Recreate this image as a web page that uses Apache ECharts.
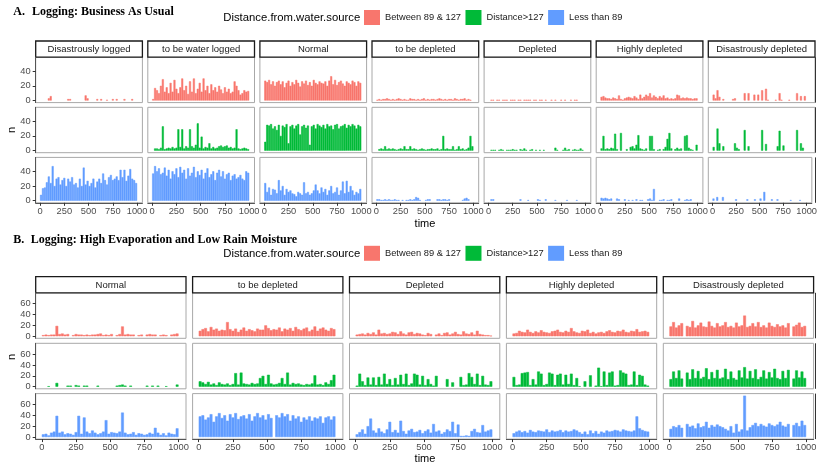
<!DOCTYPE html>
<html><head><meta charset="utf-8">
<script src="https://cdn.jsdelivr.net/npm/echarts@6/dist/echarts.min.js"></script>
<style>html,body{margin:0;padding:0;background:#fff}#c{width:820px;height:465px}</style>
</head><body><div id="c"></div>
<script>
// ---------- data ----------
const times = [10,30,50,70,90,110,130,150,170,190, 210,230,250,270,290,310,330,350,370,390, 410,430,450,470,490,510,530,550,570,590, 610,630,650,670,690,710,730,750,770,790, 810,830,850,870,890,910,930,950,970,990];
const seriesNames = ['Between 89 & 127', 'Distance>127', 'Less than 89'];
const xTicks = [0, 250, 500, 750, 1000];
const yTicksA = [0, 20, 40];
const yTicksB = [0, 20, 40, 60];
const facetsA = ['Disastrously logged', 'to be water logged', 'Normal', 'to be depleted', 'Depleted', 'Highly depleted', 'Disastrously depleted'];
const facetsB = ['Normal', 'to be depleted', 'Depleted', 'Highly depleted', 'Disastrously depleted'];
const titleA = 'Logging: Business As Usual';
const titleB = 'Logging: High Evaporation and Low Rain Moisture';

// Panel A — Business As Usual
const aRed1   = [0,0,0,0,3,6,0,0,0,0, 0,0,0,0,2,2,0,0,0,0, 0,0,0,7,3,0,0,0,0,2, 0,2,0,0,1,0,0,2,0,2, 0,0,0,2,0,0,0,2,0,0];
const aGreen1 = [];
const aBlue1  = [8,17,18,25,33,24,47,20,30,32, 22,28,31,20,30,26,32,22,24,18, 30,20,45,22,27,20,24,30,18,26, 30,24,37,28,22,32,35,28,30,33, 28,42,32,42,27,34,43,30,28,24];

const aRed2   = [2,17,14,10,20,29,12,18,10,24, 12,28,16,10,18,30,14,20,9,26, 12,30,10,16,24,12,30,14,20,10, 22,14,18,12,20,15,10,18,12,16, 10,12,26,20,14,8,10,14,12,13];
const aGreen2 = [0,3,3,2,4,33,2,3,4,3, 5,3,4,29,5,29,3,6,4,29, 6,4,8,37,4,19,3,5,4,10, 3,5,3,4,6,7,5,6,7,4, 5,3,4,29,3,2,3,4,3,2];
const aBlue2  = [37,47,40,44,36,38,45,34,42,30, 40,36,44,32,46,38,42,30,44,34, 38,46,32,40,35,42,30,38,44,32, 36,40,28,38,42,33,40,30,36,38, 28,34,36,30,32,35,30,28,40,38];

const aRed3   = [27,25,28,22,26,20,25,27,22,26, 18,24,27,20,25,22,28,24,19,26, 23,27,21,25,20,28,24,22,26,24, 23,26,20,27,33,22,28,21,25,27, 23,20,26,24,22,27,25,20,26,24];
const aGreen3 = [12,35,34,36,30,33,28,35,20,34, 32,36,10,33,35,30,34,36,22,33, 35,31,34,8,33,35,30,36,34,32, 35,30,36,33,34,29,35,36,30,33, 34,36,31,35,33,36,34,30,35,33];
const aBlue3  = [24,12,18,8,16,15,10,28,14,20, 8,16,12,14,10,9,6,12,10,8, 25,10,12,8,10,14,22,14,10,18, 12,16,8,14,20,10,12,18,8,14, 26,10,27,12,20,14,8,12,10,16];

const aRed4   = [1,2,1,2,2,3,2,1,2,1, 2,3,2,1,2,1,1,3,2,2, 1,2,1,2,3,1,2,1,2,2, 1,2,3,2,1,2,1,2,2,1, 3,2,1,2,2,3,1,2,1,0];
const aGreen4 = [0,2,3,2,6,2,3,2,3,2, 1,2,3,2,6,2,2,6,2,3, 2,1,2,3,2,1,2,2,3,2, 2,3,1,2,20,2,3,2,2,6, 1,2,6,2,3,1,2,4,20,6];
const aBlue4  = [2,2,1,1,2,1,2,1,1,2, 1,1,0,1,0,1,1,2,1,2, 5,4,1,0,0,1,2,2,0,0, 0,2,2,1,2,2,1,2,0,0, 0,0,0,0,1,3,4,2,0,0];

const aRed5   = [0,1,1,0,1,1,0,1,1,1, 0,1,1,1,0,1,1,0,1,1, 1,1,0,1,1,0,1,1,0,1, 0,0,1,0,1,0,0,1,0,1, 0,0,1,0,1,1,0,0,0,0];
const aGreen5 = [0,1,1,1,0,1,2,1,0,1, 1,1,2,1,1,0,2,1,3,1, 0,1,2,0,1,0,1,0,1,0, 0,0,0,0,4,1,0,0,1,4, 1,2,0,1,2,1,1,3,1,0];
const aBlue5  = [0,2,2,0,0,0,0,0,0,0, 0,0,0,0,0,0,2,0,0,0, 1,0,0,0,0,2,1,0,0,2, 0,0,0,0,1,0,0,0,0,0, 1,0,0,0,0,1,0,0,0,0];

const aRed6   = [5,6,4,3,3,2,4,3,2,7, 2,1,3,4,5,4,3,6,4,2, 8,3,5,8,6,10,4,7,5,3, 6,4,7,3,4,2,3,2,3,8, 7,3,4,3,4,3,3,2,3,3];
const aGreen6 = [3,20,2,3,2,4,3,23,2,0, 24,0,0,2,0,5,6,3,8,21, 3,2,1,3,0,20,20,2,0,1, 2,0,2,5,16,24,3,0,2,4, 2,3,0,20,21,4,2,1,0,8];
const aBlue6  = [4,3,4,3,2,3,0,0,3,2, 0,0,2,0,1,0,1,0,2,0, 1,1,0,0,2,3,1,16,0,0, 1,1,2,0,1,1,2,0,0,0, 3,0,0,1,2,1,2,0,0,0];

const aRed7   = [8,3,14,5,0,2,0,0,0,0, 2,3,0,0,0,0,10,0,10,0, 0,8,0,8,0,14,0,16,1,0, 0,0,1,0,10,1,0,0,0,1, 0,0,0,10,0,6,0,6,0,0];
const aGreen7 = [5,0,30,10,0,6,0,0,0,0, 0,10,4,2,0,0,28,0,6,0, 0,0,0,0,0,28,0,9,0,0, 0,0,0,6,27,0,7,0,0,0, 0,0,0,28,0,10,4,0,0,0];
const aBlue7  = [3,0,5,0,0,5,0,0,0,0, 0,0,2,0,0,0,0,0,2,0, 0,0,2,0,0,3,0,12,0,0, 0,2,0,0,2,0,0,0,0,0, 0,1,0,0,0,0,1,0,0,0];

// Panel B — High Evaporation and Low Rain Moisture
const bRed1   = [2,3,2,3,3,19,4,5,3,4, 0,2,4,3,3,2,3,2,3,3, 4,5,2,3,2,4,0,2,4,18, 3,4,3,3,0,2,3,0,3,4, 3,3,0,2,3,2,0,3,4,5];
const bGreen1 = [0,0,1,0,0,7,0,0,0,2, 2,0,3,2,0,2,2,0,0,0, 2,0,0,0,0,0,0,2,3,4, 2,0,2,0,0,0,0,0,2,0, 2,0,2,0,0,1,0,0,0,4];
const bBlue1  = [5,6,3,8,10,39,8,10,5,7, 6,4,9,39,6,36,10,7,12,8, 5,7,10,31,6,9,8,7,10,45, 8,5,6,9,4,7,6,4,5,8, 6,17,8,4,7,3,8,6,5,16];

const bRed2   = [10,13,15,9,17,12,14,10,12,11, 26,13,10,14,8,12,16,10,13,11, 9,14,12,12,20,15,11,13,12,16, 9,14,12,15,10,17,13,11,14,16, 9,12,18,10,14,16,12,10,15,13];
const bGreen2 = [10,8,5,9,4,6,3,8,5,4, 6,3,5,25,4,26,6,5,4,7, 5,6,16,20,5,22,6,4,5,7, 16,5,26,4,7,5,6,4,3,5, 4,6,21,4,5,3,8,5,12,22];
const bBlue2  = [38,40,32,36,42,28,38,44,35,40, 30,42,36,44,33,38,40,34,42,30, 38,44,36,40,32,42,35,0,40,36, 44,38,42,30,40,34,38,28,36,32, 38,30,36,34,38,26,36,38,32,38];

const bRed3   = [3,4,5,3,6,4,7,3,12,5, 6,4,5,8,7,4,9,5,3,7, 8,4,6,5,3,2,6,4,0,3, 5,2,6,7,3,5,8,4,3,9, 5,4,7,3,10,4,3,2,2,1];
const bGreen3 = [2,24,10,3,17,4,17,3,18,4, 24,5,14,3,16,4,22,5,24,3, 6,24,22,4,20,3,14,5,2,20, 0,0,0,14,0,8,0,0,18,3, 4,25,18,5,24,3,20,4,3,10];
const bBlue3  = [5,9,14,6,20,34,12,8,16,10, 7,14,28,9,13,8,30,11,6,12, 15,9,10,13,7,11,14,8,24,10, 12,6,9,14,11,28,7,23,2,2, 3,2,11,15,9,8,22,10,12,14];

const bRed4   = [5,6,10,8,7,12,8,6,9,7, 11,8,7,6,9,10,12,8,7,10, 8,15,9,7,6,10,9,12,6,8, 5,7,8,6,9,11,8,7,10,9, 12,8,7,10,9,13,8,9,10,8];
const bGreen4 = [18,3,4,25,26,27,3,14,4,28, 24,3,5,26,24,3,22,24,4,22, 5,24,3,16,1,0,10,0,21,0, 2,35,1,28,3,26,28,2,3,30, 26,24,3,4,28,3,22,20,4,2];
const bBlue4  = [7,10,12,9,11,8,13,10,9,12, 11,10,14,9,12,10,11,13,9,12, 10,11,14,12,9,6,10,5,12,7, 11,6,10,8,12,10,11,13,12,10, 14,12,11,10,12,38,16,13,11,10];

const bRed5   = [18,26,16,20,24,0,19,17,28,16, 20,25,18,17,27,19,16,24,18,20, 26,17,19,16,25,18,20,38,17,19, 24,18,26,17,20,16,25,19,17,22, 18,20,16,24,0,18,21,25,17,19];
const bGreen5 = [14,28,16,30,15,0,26,14,32,16, 29,15,18,34,14,27,16,31,15,17, 33,14,28,16,13,30,17,36,15,29, 16,32,14,18,30,15,27,17,33,16, 14,29,16,31,0,15,30,17,28,16];
const bBlue5  = [15,20,18,22,17,0,24,19,21,16, 25,18,20,28,17,22,19,23,20,18, 15,12,20,8,24,10,14,76,12,18, 22,26,20,24,21,19,25,22,20,23, 28,21,19,24,0,22,26,20,30,22];

// ---------- layout / style ----------
const colors = ['#F8766D', '#00BA38', '#619CFF'];
const SANS = "'Liberation Sans', Arial, sans-serif";
const SERIF = "'Liberation Serif', 'Times New Roman', serif";

const panelA = {
  cells: [[aRed1,aGreen1,aBlue1],[aRed2,aGreen2,aBlue2],[aRed3,aGreen3,aBlue3],[aRed4,aGreen4,aBlue4],[aRed5,aGreen5,aBlue5],[aRed6,aGreen6,aBlue6],[aRed7,aGreen7,aBlue7]],
  facets: facetsA, yTicks: yTicksA, yMin: -2.8, yMax: 58.8,
  left0: 35.7, step: 112.1, w: 106.7, rowTops: [57.2, 107.3, 157.4], h: 45.4,
  stripTop: 41, stripH: 16.2, barW: 2.0, border: 0.5,
  titleY: 11.7, letter: 'A.', title: titleA, titleX: 32, legendTop: 10, legendY: 18.3,
  nY: 130, timeY: 223.5
};
const panelB = {
  cells: [[bRed1,bGreen1,bBlue1],[bRed2,bGreen2,bBlue2],[bRed3,bGreen3,bBlue3],[bRed4,bGreen4,bBlue4],[bRed5,bGreen5,bBlue5]],
  facets: facetsB, yTicks: yTicksB, yMin: -3.8, yMax: 79.8,
  left0: 35.7, step: 156.9, w: 150.3, rowTops: [292.8, 343.3, 393.6], h: 45.5,
  stripTop: 276.7, stripH: 16.1, barW: 2.8, border: 0.5,
  titleY: 239.7, letter: 'B.', title: titleB, titleX: 30.7, legendTop: 245.8, legendY: 253.8,
  nY: 357, timeY: 459
};

const grid = [], xAxis = [], yAxis = [], series = [], graphic = [], legend = [];
let gi = 0;
const plain = v => String(v);

[panelA, panelB].forEach(P => {
  const nCols = P.cells.length;
  graphic.push({type:'text', x:13.3, y:P.titleY, silent:true, style:{text:P.letter, font:'bold 12px ' + SERIF, fill:'#000', textVerticalAlign:'middle', verticalAlign:'middle'}});
  graphic.push({type:'text', x:P.titleX, y:P.titleY, silent:true, style:{text:P.title, font:'bold 12px ' + SERIF, fill:'#000', textVerticalAlign:'middle', verticalAlign:'middle'}});
  graphic.push({type:'text', x:223.3, y:P.legendY, silent:true, style:{text:'Distance.from.water.source', font:'11.3px ' + SANS, fill:'#000', textVerticalAlign:'middle', verticalAlign:'middle'}});
  legend.push({left:364, top:P.legendTop, orient:'horizontal', itemWidth:16, itemHeight:15, itemGap:4.5, icon:'rect', padding:0, selectedMode:false,
    data: seriesNames, itemStyle:{borderWidth:0}, textStyle:{fontSize:9.3, color:'#1A1A1A', fontFamily:SANS}});
  graphic.push({type:'text', x:12.3, y:P.nY, rotation:Math.PI/2, silent:true, style:{text:'n', font:'11px ' + SANS, fill:'#000', textAlign:'center', align:'center', textVerticalAlign:'middle', verticalAlign:'middle'}});
  graphic.push({type:'text', x:425, y:P.timeY, silent:true, style:{text:'time', font:'11px ' + SANS, fill:'#000', textAlign:'center', align:'center', textVerticalAlign:'middle', verticalAlign:'middle'}});
  for (let c = 0; c < nCols; c++) {
    const left = P.left0 + P.step * c;
    graphic.push({type:'rect', silent:true, shape:{x:left, y:P.stripTop, width:P.w, height:P.stripH}, style:{fill:'#fff', stroke:'#1A1A1A', lineWidth:1.3}});
    graphic.push({type:'text', x:left + P.w/2, y:P.stripTop + P.stripH/2 + 0.5, silent:true, style:{text:P.facets[c], font:'9.5px ' + SANS, fill:'#1A1A1A', textAlign:'center', align:'center', textVerticalAlign:'middle', verticalAlign:'middle'}});
    for (let r = 0; r < 3; r++) {
      const top = P.rowTops[r];
      grid.push({left:left, top:top, width:P.w, height:P.h, show:true, borderColor:'#A8A8A8', borderWidth:1, backgroundColor:'rgba(0,0,0,0)', containLabel:false});
      const bottomRow = r === 2, firstCol = c === 0;
      xAxis.push({type:'value', gridIndex:gi, min:-45, max:1055, splitLine:{show:false},
        axisLine:{show:bottomRow, onZero:false, lineStyle:{color:'#555', width:1}},
        axisTick:{show:bottomRow, length:3, customValues:xTicks, lineStyle:{color:'#333'}},
        axisLabel:{show:bottomRow, customValues:xTicks, formatter:plain, fontSize:9.3, color:'#4D4D4D', margin:4, fontFamily:SANS, hideOverlap:false}});
      yAxis.push({type:'value', gridIndex:gi, min:P.yMin, max:P.yMax, splitLine:{show:false},
        axisLine:{show:firstCol, onZero:false, lineStyle:{color:'#555', width:1}},
        axisTick:{show:firstCol, length:3, customValues:P.yTicks, lineStyle:{color:'#333'}},
        axisLabel:{show:firstCol, customValues:P.yTicks, formatter:plain, fontSize:9.3, color:'#4D4D4D', margin:5, fontFamily:SANS}});
      const vals = P.cells[c][r];
      series.push({type:'bar', name:seriesNames[r], xAxisIndex:gi, yAxisIndex:gi, barWidth:P.barW, silent:true,
        itemStyle:{color:colors[r], borderColor:colors[r], borderWidth:P.border},
        data: vals.map((v, i) => [times[i], v]).filter(d => d[1] > 0)});
      gi++;
    }
  }
  P.rowTops.forEach(t => graphic.push({type:'line', silent:true, shape:{x1:815.5, y1:t, x2:815.5, y2:t + P.h}, style:{stroke:'#333', lineWidth:1}}));
});

const chart = echarts.init(document.getElementById('c'), null, {renderer:'canvas'});
chart.setOption({animation:false, backgroundColor:'#fff', grid, xAxis, yAxis, series, legend, graphic});
</script>
</body></html>
